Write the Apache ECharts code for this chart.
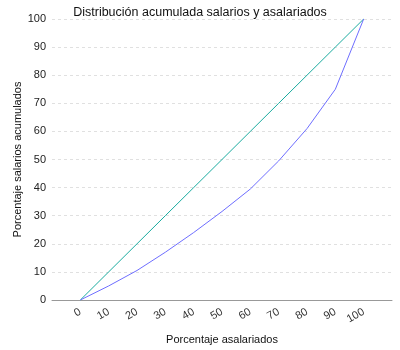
<!DOCTYPE html>
<html>
<head>
<meta charset="utf-8">
<script src="https://cdn.jsdelivr.net/npm/echarts@6/dist/echarts.min.js"></script>
<style>
  html, body { margin: 0; padding: 0; background: #fff; }
  #chart { width: 400px; height: 350px; }
</style>
</head>
<body>
<div id="chart"></div>
<script>
// Percentage of wage earners (x) and cumulative share of wages (y)
const asalariados = [0, 10, 20, 30, 40, 50, 60, 70, 80, 90, 100];
const igualdad = [0, 10, 20, 30, 40, 50, 60, 70, 80, 90, 100];
const salariosAcumulados = [0, 5, 10.5, 17, 24, 31.5, 39.5, 49.5, 61, 75, 100];

const pairs = (xs, ys) => xs.map((x, i) => [x, ys[i]]);

const chart = echarts.init(document.getElementById('chart'), null, { renderer: 'canvas' });
chart.setOption({
  animation: false,
  backgroundColor: '#ffffff',
  textStyle: { fontFamily: 'Liberation Sans, Arial, sans-serif' },
  title: {
    text: 'Distribución acumulada salarios y asalariados',
    left: 'center',
    top: 1,
    textStyle: { fontSize: 12.5, fontWeight: 'normal', color: '#111', fontFamily: 'Liberation Sans, Arial, sans-serif' }
  },
  grid: { left: 52, right: 8, top: 19, bottom: 50, containLabel: false },
  xAxis: {
    type: 'value',
    min: -10,
    max: 110,
    interval: 10,
    name: 'Porcentaje asalariados',
    nameLocation: 'middle',
    nameGap: 34,
    nameMoveOverlap: false,
    nameTextStyle: { fontSize: 11, color: '#111' },
    axisLine: { show: true, onZero: false, lineStyle: { color: '#999', width: 1 } },
    axisTick: { show: false },
    splitLine: { show: false },
    axisLabel: {
      rotate: 30,
      fontSize: 11,
      color: '#333',
      margin: 11,
      showMinLabel: false,
      showMaxLabel: false,
      formatter: v => (v < 0 || v > 100) ? '' : String(v)
    }
  },
  yAxis: {
    type: 'value',
    min: 0,
    max: 100,
    interval: 10,
    name: 'Porcentaje salarios acumulados',
    nameLocation: 'middle',
    nameGap: 29,
    nameMoveOverlap: false,
    nameTextStyle: { fontSize: 11, color: '#111' },
    axisLine: { show: false },
    axisTick: { show: false },
    splitLine: { show: true, lineStyle: { color: '#e0e0e0', type: [3, 3], width: 1 } },
    axisLabel: { fontSize: 11, color: '#222', margin: 6 }
  },
  series: [
    {
      type: 'line',
      data: pairs(asalariados, igualdad),
      showSymbol: false,
      lineStyle: { color: '#1aab9f', width: 1 },
      itemStyle: { color: '#1aab9f' }
    },
    {
      type: 'line',
      data: pairs(asalariados, salariosAcumulados),
      showSymbol: false,
      lineStyle: { color: '#6e6eff', width: 1 },
      itemStyle: { color: '#6e6eff' }
    }
  ]
});
</script>
</body>
</html>
